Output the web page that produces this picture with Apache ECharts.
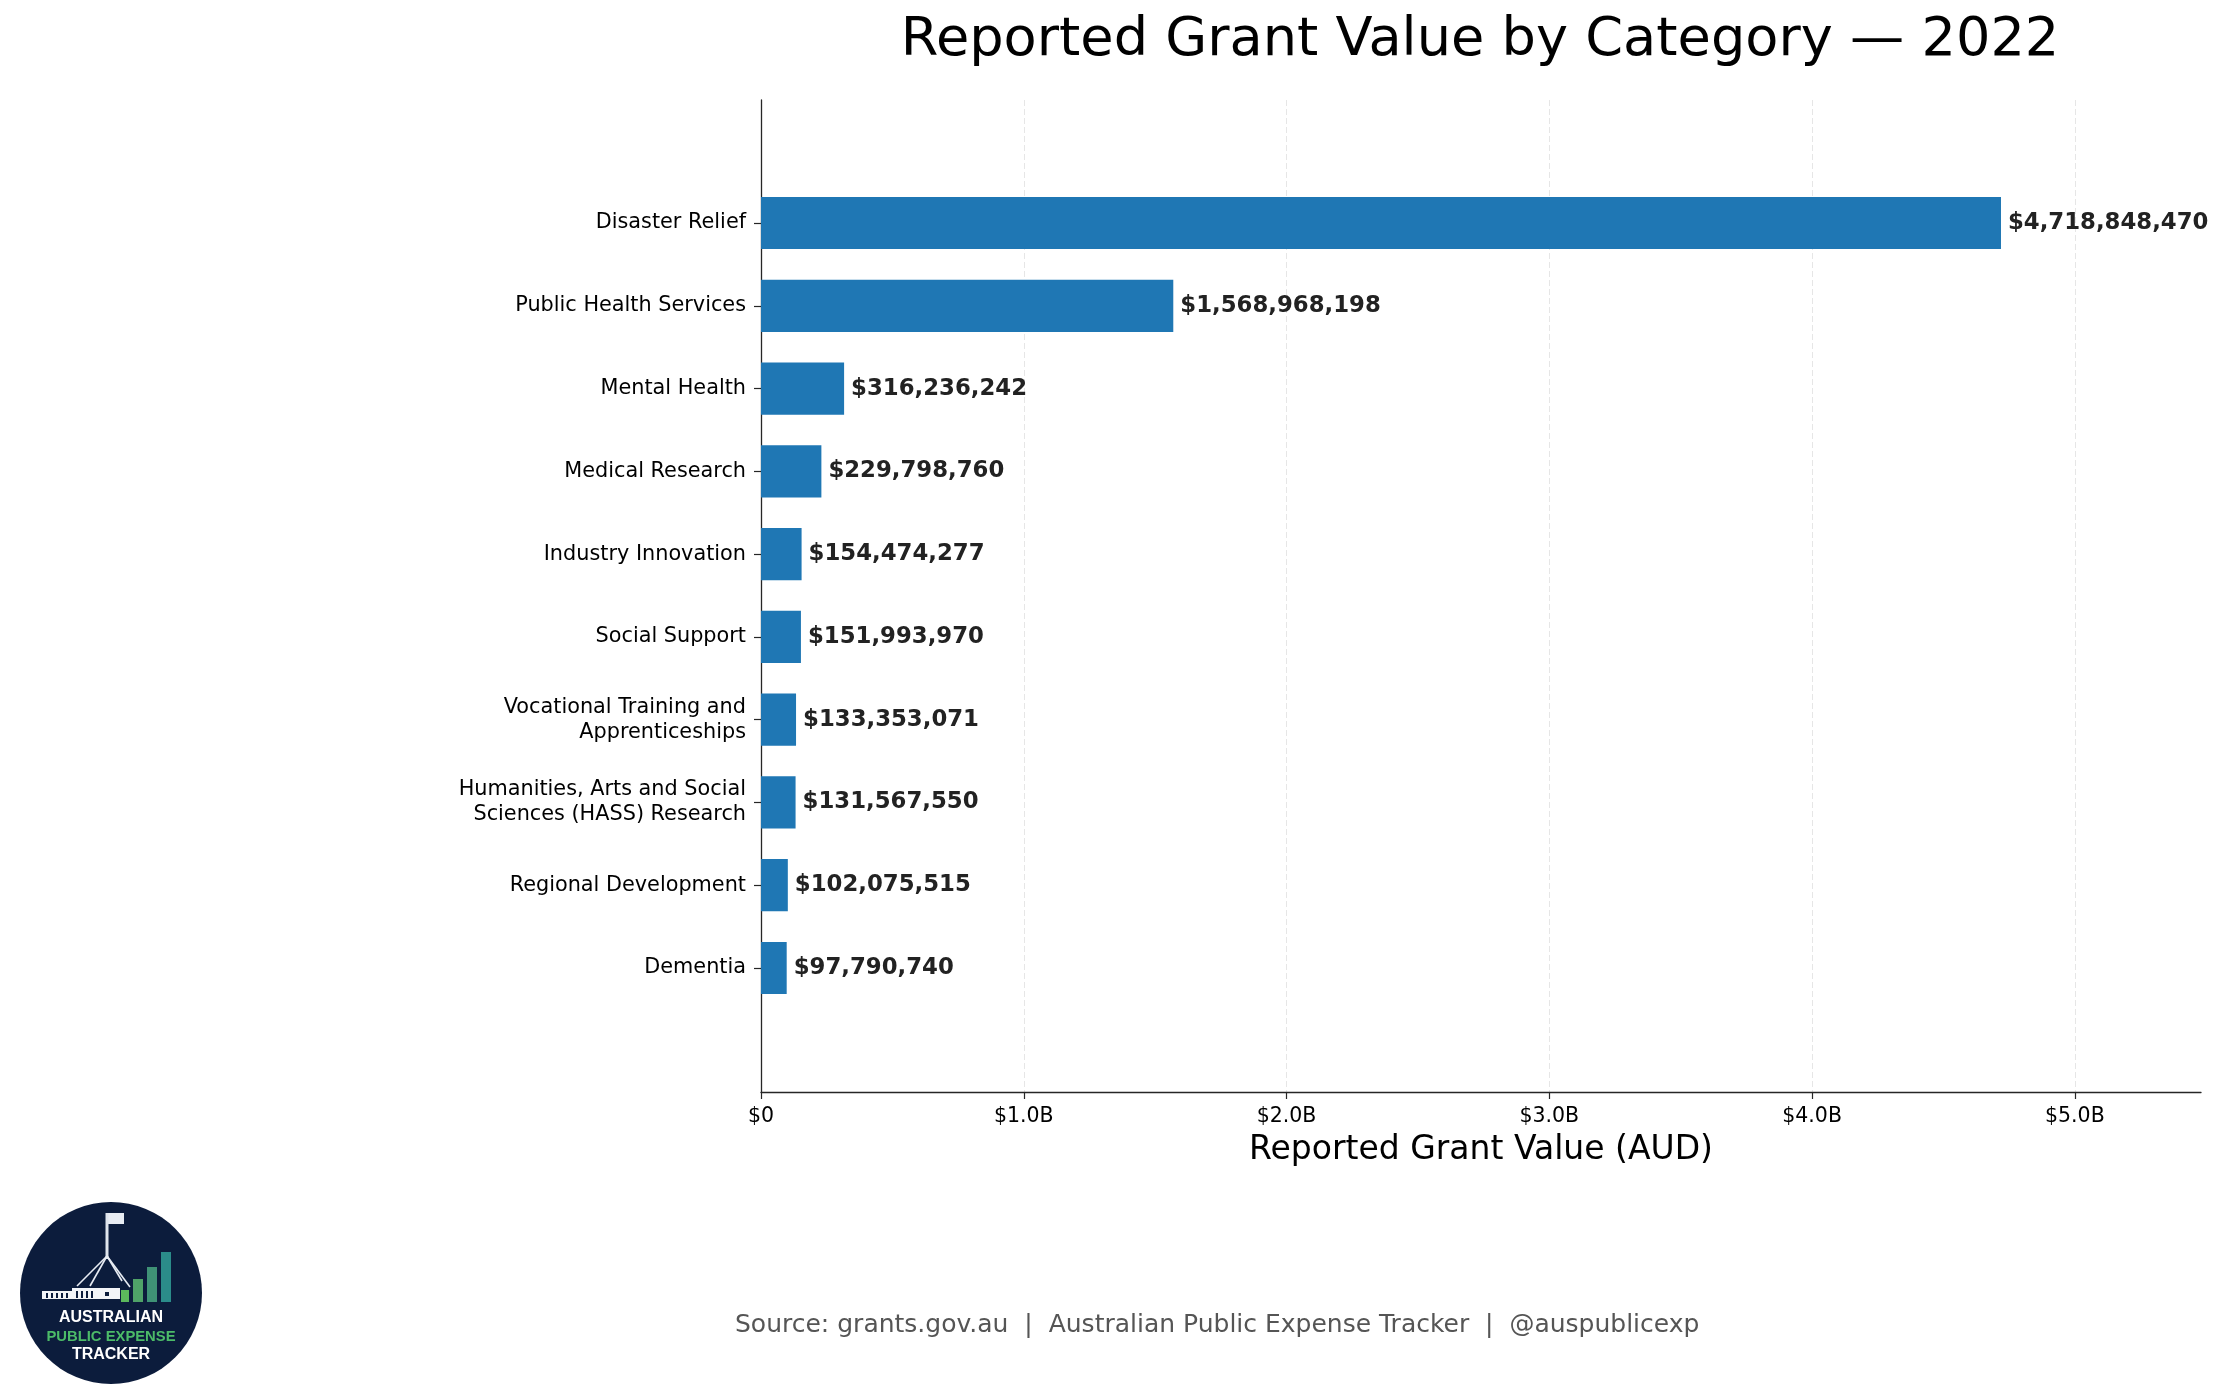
<!DOCTYPE html>
<html>
<head>
<meta charset="utf-8">
<script src="https://cdn.jsdelivr.net/npm/echarts@6/dist/echarts.min.js"></script>
<style>
html,body{margin:0;padding:0;background:#fff;}
#chart{width:2225px;height:1399px;}
</style>
</head>
<body>
<div id="chart"></div>
<script>
const categories = [
  "Disaster Relief",
  "Public Health Services",
  "Mental Health",
  "Medical Research",
  "Industry Innovation",
  "Social Support",
  "Vocational Training and\nApprenticeships",
  "Humanities, Arts and Social\nSciences (HASS) Research",
  "Regional Development",
  "Dementia"
];
const grantValues = [
  4718848470,
  1568968198,
  316236242,
  229798760,
  154474277,
  151993970,
  133353071,
  131567550,
  102075515,
  97790740
];
const xTicks = [0, 1e9, 2e9, 3e9, 4e9, 5e9];
const xMax = 5.48e9;
const titleText = "Reported Grant Value by Category \u2014 2022";
const xAxisTitle = "Reported Grant Value (AUD)";
const footerText = "Source: grants.gov.au  |  Australian Public Expense Tracker  |  @auspublicexp";

const FONT = "DejaVu Sans";
const plotLeft = 761, plotTop = 100, plotW = 1440, plotH = 992;
const nBands = categories.length + 2;
const band = plotH / nBands;

function fmtTick(v) {
  if (v === 0) return "$0";
  return "$" + (v / 1e9).toFixed(1) + "B";
}
function fmtMoney(v) {
  return "$" + Math.round(v).toLocaleString("en-US");
}

const chart = echarts.init(document.getElementById("chart"), null, {renderer: "canvas"});

const option = {
  backgroundColor: "#ffffff",
  animation: false,
  grid: [
    {left: plotLeft, top: plotTop, width: plotW, height: plotH, containLabel: false},
    {left: plotLeft, top: plotTop + band - 1, width: plotW, height: band * categories.length + 1, containLabel: false}
  ],
  xAxis: [
    {
      type: "value", gridIndex: 0, min: 0, max: xMax, interval: 1e9,
      axisLine: {show: true, onZero: false, lineStyle: {color: "#262626", width: 1.3}},
      axisTick: {show: true, length: 7, customValues: xTicks, lineStyle: {color: "#262626", width: 1.2}},
      axisLabel: {show: true, customValues: xTicks, formatter: fmtTick, margin: 14, fontFamily: FONT, fontSize: 20.5, color: "#000"},
      splitLine: {show: true, lineStyle: {color: "#e6e6e6", width: 1, type: [6, 3]}},
      name: xAxisTitle, nameLocation: "middle", nameGap: 42,
      nameTextStyle: {fontFamily: FONT, fontSize: 33, color: "#000"}
    },
    {
      type: "value", gridIndex: 1, min: 0, max: xMax, show: false,
      splitLine: {show: false}
    }
  ],
  yAxis: [
    {
      type: "value", gridIndex: 0, min: 0, max: 1,
      axisLine: {show: true, onZero: false, lineStyle: {color: "#262626", width: 1.3}},
      axisTick: {show: false}, axisLabel: {show: false}, splitLine: {show: false}
    },
    {
      type: "category", gridIndex: 1, data: categories, inverse: true,
      axisLine: {show: false},
      axisTick: {show: true, alignWithLabel: true, interval: 0, length: 7, lineStyle: {color: "#262626", width: 1.2}},
      axisLabel: {show: true, interval: 0, margin: 15, fontFamily: FONT, fontSize: 20.8, lineHeight: 25, color: "#000", align: "right"},
      splitLine: {show: false}
    }
  ],
  series: [
    {
      type: "bar", xAxisIndex: 1, yAxisIndex: 1,
      data: grantValues,
      barWidth: "63%",
      itemStyle: {color: "#1f77b4"},
      label: {
        show: true, position: "right", distance: 7,
        formatter: p => fmtMoney(p.value),
        fontFamily: FONT, fontWeight: "bold", fontSize: 22.8, color: "#222222"
      },
      silent: true
    }
  ],
  graphic: [
    {
      type: "text", x: 1480, y: 41,
      style: {text: titleText, font: "54.2px 'DejaVu Sans'", fill: "#000", align: "center", verticalAlign: "middle"}
    },
    {
      type: "text", x: 735, y: 1325,
      style: {text: footerText, font: "25px 'DejaVu Sans'", fill: "#555555", align: "left", verticalAlign: "middle"}
    },
    {
      type: "group", children: [
        {type: "circle", shape: {cx: 111, cy: 1293, r: 91}, style: {fill: "#0c1c3c"}},
        // flag & pole
        {type: "rect", shape: {x: 107, y: 1213, width: 17, height: 11}, style: {fill: "#e8ecf3"}},
        {type: "rect", shape: {x: 105.5, y: 1213, width: 3, height: 46}, style: {fill: "#dfe4ec"}},
        {type: "line", shape: {x1: 107, y1: 1256, x2: 77, y2: 1286}, style: {stroke: "#e8ecf3", lineWidth: 1.6}},
        {type: "line", shape: {x1: 107, y1: 1256, x2: 90, y2: 1286}, style: {stroke: "#e8ecf3", lineWidth: 1.6}},
        {type: "line", shape: {x1: 107, y1: 1256, x2: 122, y2: 1281}, style: {stroke: "#e8ecf3", lineWidth: 1.6}},
        {type: "line", shape: {x1: 107, y1: 1256, x2: 130, y2: 1287}, style: {stroke: "#e8ecf3", lineWidth: 1.6}},
        // building
        {type: "rect", shape: {x: 42, y: 1291, width: 30, height: 8}, style: {fill: "#f2f4f8"}},
        {type: "rect", shape: {x: 72, y: 1288, width: 48, height: 11}, style: {fill: "#f2f4f8"}},
        {type: "rect", shape: {x: 46, y: 1293, width: 2, height: 5}, style: {fill: "#0c1c3c"}},
        {type: "rect", shape: {x: 51, y: 1293, width: 2, height: 5}, style: {fill: "#0c1c3c"}},
        {type: "rect", shape: {x: 56, y: 1293, width: 2, height: 5}, style: {fill: "#0c1c3c"}},
        {type: "rect", shape: {x: 61, y: 1293, width: 2, height: 5}, style: {fill: "#0c1c3c"}},
        {type: "rect", shape: {x: 66, y: 1293, width: 2, height: 5}, style: {fill: "#0c1c3c"}},
        {type: "rect", shape: {x: 76, y: 1291, width: 2, height: 7}, style: {fill: "#0c1c3c"}},
        {type: "rect", shape: {x: 81, y: 1291, width: 2, height: 7}, style: {fill: "#0c1c3c"}},
        {type: "rect", shape: {x: 86, y: 1291, width: 2, height: 7}, style: {fill: "#0c1c3c"}},
        {type: "rect", shape: {x: 91, y: 1291, width: 2, height: 7}, style: {fill: "#0c1c3c"}},
        {type: "rect", shape: {x: 105, y: 1292, width: 4, height: 4}, style: {fill: "#0c1c3c"}},
        // rising bars
        {type: "rect", shape: {x: 121, y: 1290, width: 8, height: 12}, style: {fill: "#5cb85c"}},
        {type: "rect", shape: {x: 133, y: 1279, width: 10, height: 23}, style: {fill: "#4fa268"}},
        {type: "rect", shape: {x: 147, y: 1267, width: 10, height: 35}, style: {fill: "#3f9276"}},
        {type: "rect", shape: {x: 161, y: 1252, width: 10, height: 50}, style: {fill: "#2b8c8a"}},
        // texts
        {type: "text", x: 111, y: 1318, style: {text: "AUSTRALIAN", font: "bold 16px 'Liberation Sans'", fill: "#ffffff", align: "center", verticalAlign: "middle"}},
        {type: "text", x: 111, y: 1337, style: {text: "PUBLIC EXPENSE", font: "bold 14.8px 'Liberation Sans'", fill: "#4cbb68", align: "center", verticalAlign: "middle"}},
        {type: "text", x: 111, y: 1355, style: {text: "TRACKER", font: "bold 16px 'Liberation Sans'", fill: "#ffffff", align: "center", verticalAlign: "middle"}}
      ]
    }
  ]
};

chart.setOption(option);
</script>
</body>
</html>
